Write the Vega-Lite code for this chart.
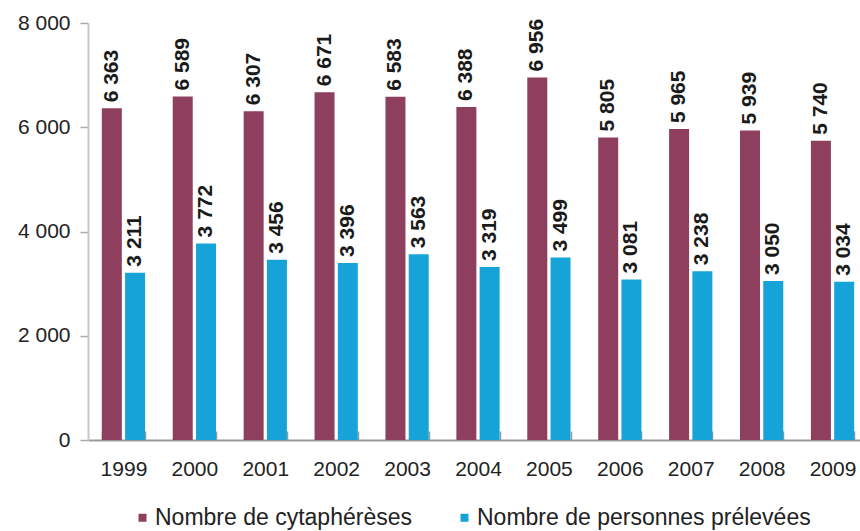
{
  "$schema": "https://vega.github.io/schema/vega-lite/v6.json",
  "width": 780,
  "height": 417,
  "padding": {"left": 5, "top": 12, "right": 0, "bottom": 0},
  "background": "white",
  "config": {
    "view": {"stroke": null},
    "locale": {"number": {"decimal": ",", "thousands": " ", "grouping": [3], "currency": ["", " €"]}},
    "font": "Liberation Sans"
  },
  "data": {
    "values": [
      {"year": "1999", "series": "Nombre de cytaphérèses", "value": 6363},
      {"year": "2000", "series": "Nombre de cytaphérèses", "value": 6589},
      {"year": "2001", "series": "Nombre de cytaphérèses", "value": 6307},
      {"year": "2002", "series": "Nombre de cytaphérèses", "value": 6671},
      {"year": "2003", "series": "Nombre de cytaphérèses", "value": 6583},
      {"year": "2004", "series": "Nombre de cytaphérèses", "value": 6388},
      {"year": "2005", "series": "Nombre de cytaphérèses", "value": 6956},
      {"year": "2006", "series": "Nombre de cytaphérèses", "value": 5805},
      {"year": "2007", "series": "Nombre de cytaphérèses", "value": 5965},
      {"year": "2008", "series": "Nombre de cytaphérèses", "value": 5939},
      {"year": "2009", "series": "Nombre de cytaphérèses", "value": 5740},
      {"year": "1999", "series": "Nombre de personnes prélevées", "value": 3211},
      {"year": "2000", "series": "Nombre de personnes prélevées", "value": 3772},
      {"year": "2001", "series": "Nombre de personnes prélevées", "value": 3456},
      {"year": "2002", "series": "Nombre de personnes prélevées", "value": 3396},
      {"year": "2003", "series": "Nombre de personnes prélevées", "value": 3563},
      {"year": "2004", "series": "Nombre de personnes prélevées", "value": 3319},
      {"year": "2005", "series": "Nombre de personnes prélevées", "value": 3499},
      {"year": "2006", "series": "Nombre de personnes prélevées", "value": 3081},
      {"year": "2007", "series": "Nombre de personnes prélevées", "value": 3238},
      {"year": "2008", "series": "Nombre de personnes prélevées", "value": 3050},
      {"year": "2009", "series": "Nombre de personnes prélevées", "value": 3034}
    ]
  },
  "encoding": {
    "x": {
      "field": "year", "type": "nominal", "title": null,
      "scale": {"paddingInner": 0.39, "paddingOuter": 0.195},
      "axis": {
        "labelAngle": 0, "labelFontSize": 21, "labelColor": "#222222",
        "tickBand": "extent", "tickSize": -9, "tickColor": "#999999", "tickWidth": 1.5,
        "domainColor": "#999999", "domainWidth": 2, "labelPadding": 27,
        "labelBaseline": "top"
      }
    },
    "xOffset": {
      "field": "series", "type": "nominal",
      "scale": {"paddingInner": 0.14, "paddingOuter": 0}
    },
    "y": {
      "field": "value", "type": "quantitative", "title": null,
      "scale": {"domain": [0, 8000]},
      "axis": {
        "values": [0, 2000, 4000, 6000, 8000], "format": ",d", "grid": false,
        "labelFontSize": 21, "labelColor": "#222222",
        "domainColor": "#c8c8c8", "domainWidth": 2, "tickColor": "#aaaaaa",
        "tickSize": 8, "tickWidth": 1.5, "labelPadding": 10,
        "minExtent": 83, "maxExtent": 83
      }
    }
  },
  "layer": [
    {
      "mark": {"type": "bar"},
      "encoding": {
        "color": {
          "field": "series", "type": "nominal", "title": null,
          "scale": {"range": ["#8e3f5e", "#16a3d8"]},
          "legend": {
            "orient": "none", "direction": "horizontal",
            "legendX": 43, "legendY": 483,
            "symbolType": "square", "symbolSize": 64,
            "labelFontSize": 23, "labelColor": "#222222", "labelLimit": 500,
            "labelOffset": 1, "columnPadding": 41
          }
        }
      }
    },
    {
      "mark": {"type": "text", "angle": 270, "align": "left", "baseline": "middle", "dx": 6, "fontSize": 21, "fontWeight": "bold", "color": "#1a1a1a"},
      "encoding": {
        "text": {"field": "value", "type": "quantitative", "format": ",d"}
      }
    }
  ]
}
